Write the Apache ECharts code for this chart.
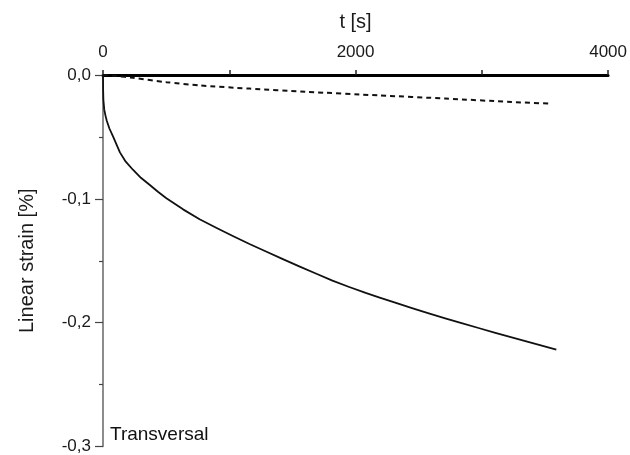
<!DOCTYPE html>
<html>
<head>
<meta charset="utf-8">
<script src="https://cdn.jsdelivr.net/npm/echarts@6/dist/echarts.min.js"></script>
<style>
html,body{margin:0;padding:0;background:#fff;}
#chart{width:630px;height:455px;}
</style>
</head>
<body>
<div id="chart"></div>
<script>
// Time axis [s] and linear strain [%] values
var solidTime   = [0, 1, 3, 10, 20, 30, 50, 81, 134, 180, 237, 300, 371, 435, 502, 634, 765, 900, 1028, 1160, 1291, 1420, 1554, 1690, 1817, 1950, 2080, 2185, 2320, 2447, 2580, 2710, 2840, 2974, 3100, 3237, 3410, 3590];
var solidStrain = [0, -0.012, -0.020, -0.028, -0.033, -0.037, -0.043, -0.050, -0.0625, -0.0700, -0.0765, -0.0830, -0.0888, -0.0943, -0.0995, -0.1085, -0.1165, -0.1235, -0.1300, -0.1365, -0.1425, -0.1485, -0.1545, -0.1605, -0.1660, -0.1712, -0.1760, -0.1795, -0.1840, -0.1883, -0.1925, -0.1965, -0.2004, -0.2043, -0.2080, -0.2118, -0.2168, -0.2217];

var dashedTime   = [0, 100, 237, 502, 765, 1160, 1600, 2185, 2710, 3237, 3550];
var dashedStrain = [0, -0.0008, -0.0023, -0.0058, -0.0084, -0.0110, -0.0135, -0.0165, -0.0190, -0.0218, -0.0231];

var xTickLabels = [0, 2000, 4000];
var yTickLabels = ['0,0', '-0,1', '-0,2', '-0,3'];

var xName = 't [s]';
var yName = 'Linear strain [%]';
var noteText = 'Transversal';

function pairs(xs, ys) { return xs.map(function (x, i) { return [x, ys[i]]; }); }

var FONT = '"Liberation Sans", Arial, Helvetica, sans-serif';
var chart = echarts.init(document.getElementById('chart'), null, {renderer: 'canvas'});
chart.setOption({
  animation: false,
  backgroundColor: '#ffffff',
  grid: {left: 103, right: 20, top: 75, bottom: 6, containLabel: false},
  xAxis: {
    type: 'value', position: 'top', min: 0, max: 4000, interval: 2000,
    name: xName, nameLocation: 'middle', nameGap: 43,
    nameTextStyle: {fontFamily: FONT, fontSize: 20, color: '#1a1a1a'},
    axisLine: {onZero: false, lineStyle: {color: '#000', width: 3}},
    axisTick: {show: true, length: 5, lineStyle: {color: '#222', width: 1.5}},
    minorTick: {show: true, splitNumber: 2, length: 5, lineStyle: {color: '#222', width: 1.5}},
    axisLabel: {margin: 14, fontFamily: FONT, fontSize: 17, color: '#1a1a1a',
      formatter: function (v) { return xTickLabels.indexOf(v) >= 0 ? String(v) : ''; }},
    splitLine: {show: false}
  },
  yAxis: {
    type: 'value', min: -0.3, max: 0, interval: 0.1,
    name: yName, nameLocation: 'middle', nameGap: 66, nameRotate: 90,
    nameTextStyle: {fontFamily: FONT, fontSize: 20, color: '#1a1a1a'},
    axisLine: {onZero: false, lineStyle: {color: '#666', width: 1.5}},
    axisTick: {show: true, length: 8, lineStyle: {color: '#444', width: 1.2}},
    minorTick: {show: true, splitNumber: 2, length: 4, lineStyle: {color: '#444', width: 1.2}},
    axisLabel: {margin: 12, fontFamily: FONT, fontSize: 17, color: '#1a1a1a',
      formatter: function (v) { var idx = Math.round(-v * 10); return yTickLabels[idx]; }},
    splitLine: {show: false}
  },
  graphic: [{
    type: 'text', left: 110, top: 425,
    style: {text: noteText, font: '19px ' + FONT, fill: '#111'}
  }],
  series: [
    {
      type: 'line', data: pairs(solidTime, solidStrain), showSymbol: false,
      smooth: false,
      lineStyle: {color: '#111', width: 1.8, join: 'round'}
    },
    {
      type: 'line', data: pairs(dashedTime, dashedStrain), showSymbol: false,
      smooth: 0.25,
      lineStyle: {color: '#111', width: 2, type: [5, 4]}
    }
  ]
});
</script>
</body>
</html>
